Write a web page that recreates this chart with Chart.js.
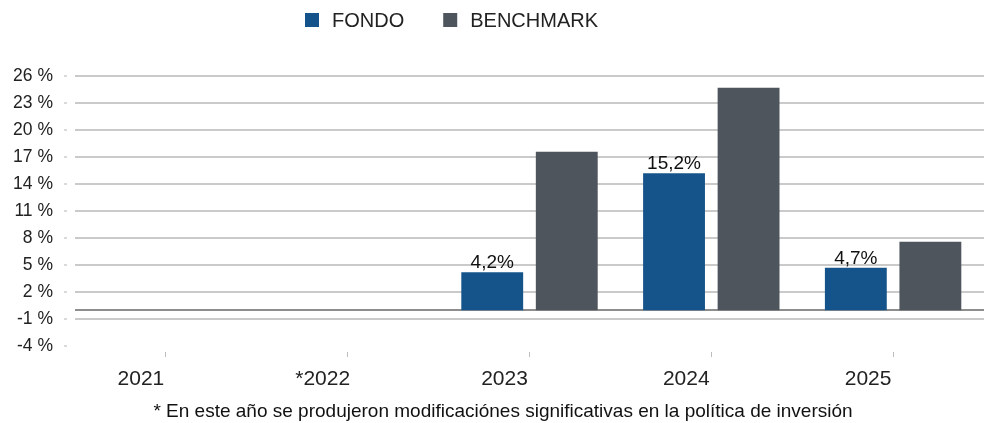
<!DOCTYPE html>
<html>
<head>
<meta charset="utf-8">
<script src="https://cdn.jsdelivr.net/npm/chart.js@4"></script>
<style>
  html, body { margin: 0; padding: 0; background: #fff; }
  #wrap { width: 984px; height: 423px; }
</style>
</head>
<body>
<div id="wrap"><canvas id="chart" width="984" height="423"></canvas></div>
<script>
const years = ["2021", "*2022", "2023", "2024", "2025"];
const fondo = [null, null, 4.2, 15.2, 4.7];
const benchmark = [null, null, 17.6, 24.7, 7.6];
const seriesNames = ["FONDO", "BENCHMARK"];
const seriesColors = ["#14548a", "#4f555c"];
const footnote = "* En este año se produjeron modificaciónes significativas en la política de inversión";

const FONT = '"Liberation Sans", Arial, sans-serif';

// value labels over the FONDO bars, e.g. "4,2%"
const valueLabels = {
  id: "valueLabels",
  afterDatasetsDraw(chart) {
    const ctx = chart.ctx;
    const meta = chart.getDatasetMeta(0);
    ctx.save();
    ctx.font = "19px " + FONT;
    ctx.fillStyle = "#111";
    ctx.textAlign = "center";
    ctx.textBaseline = "alphabetic";
    meta.data.forEach((bar, i) => {
      if (fondo[i] == null) return;
      ctx.fillText(fondo[i].toFixed(1).replace(".", ",") + "%", bar.x, bar.y - 4);
    });
    ctx.restore();
  }
};

// darker line at 0 %
const zeroLine = {
  id: "zeroLine",
  beforeDatasetsDraw(chart) {
    const { ctx, chartArea } = chart;
    const y = Math.round(chart.scales.y.getPixelForValue(0));
    ctx.save();
    ctx.strokeStyle = "#8e8e8e";
    ctx.lineWidth = 2;
    ctx.beginPath();
    ctx.moveTo(chartArea.left, y);
    ctx.lineTo(chartArea.right, y);
    ctx.stroke();
    ctx.restore();
  }
};

// legend drawn at the top, left of centre like the original
const topLegend = {
  id: "topLegend",
  afterDraw(chart) {
    const ctx = chart.ctx;
    ctx.save();
    ctx.font = "20px " + FONT;
    ctx.textBaseline = "middle";
    let x = 305;
    chart.data.datasets.forEach(ds => {
      ctx.fillStyle = ds.backgroundColor;
      ctx.fillRect(x, 13, 14, 14);
      x += 14 + 13;
      ctx.fillStyle = "#222";
      ctx.fillText(ds.label, x, 21);
      x += ctx.measureText(ds.label).width + 39;
    });
    ctx.restore();
  }
};

// nudge the footnote a little right of the canvas centre
const shiftTitle = {
  id: "shiftTitle",
  afterLayout(chart) {
    if (chart.titleBlock) {
      chart.titleBlock.left += 11;
      chart.titleBlock.right += 11;
    }
  }
};

new Chart(document.getElementById("chart"), {
  type: "bar",
  data: {
    labels: years,
    datasets: [
      { label: seriesNames[0], data: fondo, backgroundColor: seriesColors[0] },
      { label: seriesNames[1], data: benchmark, backgroundColor: seriesColors[1] }
    ]
  },
  options: {
    responsive: false,
    animation: false,
    devicePixelRatio: 1,
    categoryPercentage: 0.82,
    barPercentage: 0.83,
    layout: { padding: { top: 76, bottom: 0, left: 0, right: 0 } },
    plugins: {
      legend: { display: false },
      tooltip: { enabled: false },
      title: {
        display: true,
        position: "bottom",
        text: footnote,
        color: "#111",
        font: { family: FONT, size: 19, weight: "normal" },
        padding: { top: 13, bottom: 0 }
      }
    },
    scales: {
      x: {
        grid: {
          display: true,
          drawOnChartArea: false,
          offset: false,
          tickLength: 12,
          tickColor: "#bdbdbd",
          tickWidth: 1,
          tickBorderDash: [0, 6, 5, 20]
        },
        border: { display: false },
        ticks: {
          color: "#222",
          font: { family: FONT, size: 21 },
          padding: 8,
          labelOffset: -25,
          maxRotation: 0,
          autoSkip: false
        },
        afterFit(scale) { scale.height = 41; }
      },
      y: {
        min: -4,
        max: 26,
        grid: {
          color: c => (c.tick && c.tick.value === -4 ? "rgba(0,0,0,0)" : "#cacaca"),
          lineWidth: 2,
          tickLength: 11,
          tickColor: "#b5b5b5",
          tickWidth: 1,
          tickBorderDash: [3, 20]
        },
        border: { display: false },
        ticks: {
          stepSize: 3,
          color: "#222",
          font: { family: FONT, size: 17.5 },
          padding: 11,
          callback: v => v + " %"
        },
        afterFit(scale) { scale.width = 75; }
      }
    }
  },
  plugins: [zeroLine, valueLabels, topLegend, shiftTitle]
});
</script>
</body>
</html>
